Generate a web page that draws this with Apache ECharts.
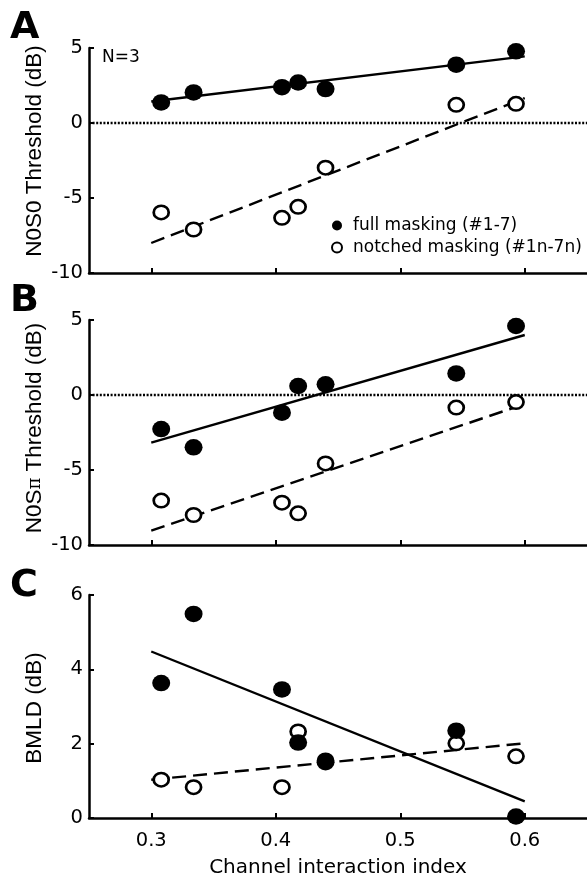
<!DOCTYPE html>
<html>
<head>
<meta charset="utf-8">
<script src="https://cdn.jsdelivr.net/npm/echarts@6/dist/echarts.min.js"></script>
<style>
html, body { margin: 0; padding: 0; background: #fff; }
#main { width: 587px; height: 881px; }
</style>
</head>
<body>
<div id="main"></div>
<script>
// channel interaction index of the 7 maskers (same for every panel)
var channelIndex = [0.308, 0.334, 0.405, 0.418, 0.440, 0.545, 0.593];

// A: N0S0 threshold (dB)
var n0s0Full = [1.37, 2.04, 2.39, 2.70, 2.26, 3.89, 4.78];
var n0s0Notched = [-5.96, -7.10, -6.32, -5.59, -2.98, 1.21, 1.28];
// B: N0Spi threshold (dB)
var n0spiFull = [-2.27, -3.49, -1.18, 0.60, 0.71, 1.44, 4.60];
var n0spiNotched = [-7.04, -8.00, -7.18, -7.89, -4.56, -0.84, -0.47];
// C: BMLD (dB)
var bmldFull = [3.63, 5.49, 3.46, 2.03, 1.50, 2.35, 0.04];
var bmldNotched = [1.03, 0.83, 0.83, 2.33, 1.55, 2.01, 1.66];

// regression lines, read at both ends
var fitX = [0.3, 0.6];
var n0s0FullFit = [1.43, 4.44];
var n0s0NotchedFit = [-8.0, 1.66];
var n0spiFullFit = [-3.18, 4.0];
var n0spiNotchedFit = [-9.04, -0.6];
var bmldFullFit = [4.48, 0.45];
var bmldNotchedFit = [1.03, 2.01];

var xTicks = [0.3, 0.4, 0.5, 0.6];
var fullName = 'full masking (#1-7)';
var notchedName = 'notched masking (#1n-7n)';

function pairs(xs, ys) {
    var out = [];
    for (var i = 0; i < xs.length; i++) {
        out.push([xs[i], ys[i]]);
    }
    return out;
}

var font = 'DejaVu Sans';
var grids = [
    {left: 89, top: 48, width: 498, height: 225},
    {left: 89, top: 320, width: 498, height: 225},
    {left: 89, top: 595, width: 498, height: 223}
];
var yRanges = [[-10, 5, 5], [-10, 5, 5], [0, 6, 2]];

var xAxes = [], yAxes = [];
for (var g = 0; g < 3; g++) {
    xAxes.push({
        type: 'value', gridIndex: g, min: 0.25, max: 0.65,
        axisLine: {show: true, onZero: false, lineStyle: {color: '#000', width: 2.5}},
        axisTick: {show: true, inside: true, length: 5, customValues: xTicks, lineStyle: {color: '#000', width: 2}},
        axisLabel: {show: g === 2, customValues: xTicks, color: '#000', fontSize: 19.5, fontFamily: font, margin: 13},
        splitLine: {show: false},
        name: g === 2 ? 'Channel interaction index' : '',
        nameLocation: 'middle', nameGap: 40,
        nameTextStyle: {color: '#000', fontSize: 20, fontFamily: font}
    });
    yAxes.push({
        type: 'value', gridIndex: g, min: yRanges[g][0], max: yRanges[g][1], interval: yRanges[g][2],
        axisLine: {show: true, onZero: false, lineStyle: {color: '#000', width: 2.5}},
        axisTick: {show: true, inside: true, length: 5, lineStyle: {color: '#000', width: 2}},
        axisLabel: {color: '#000', fontSize: 19.5, fontFamily: font, margin: 6},
        splitLine: {show: false}
    });
}

var panels = [
    [n0s0Full, n0s0Notched, n0s0FullFit, n0s0NotchedFit, true],
    [n0spiFull, n0spiNotched, n0spiFullFit, n0spiNotchedFit, true],
    [bmldFull, bmldNotched, bmldFullFit, bmldNotchedFit, false]
];

var series = [];
for (var p = 0; p < 3; p++) {
    var solid = {
        type: 'line', xAxisIndex: p, yAxisIndex: p, name: 'fit full ' + p,
        data: pairs(fitX, panels[p][2]), showSymbol: false, z: 2,
        lineStyle: {color: '#000', width: 2.4}
    };
    if (panels[p][4]) {
        solid.markLine = {
            silent: true, symbol: ['none', 'none'], label: {show: false},
            lineStyle: {color: '#000', width: 2.4, type: [2, 1.6]},
            data: [{yAxis: 0}]
        };
    }
    series.push(solid);
    series.push({
        type: 'line', xAxisIndex: p, yAxisIndex: p, name: 'fit notched ' + p,
        data: pairs(fitX, panels[p][3]), showSymbol: false, z: 2,
        lineStyle: {color: '#000', width: 2.4, type: [14, 7]}
    });
    series.push({
        type: 'scatter', xAxisIndex: p, yAxisIndex: p, name: notchedName,
        data: pairs(channelIndex, panels[p][1]), symbol: 'circle', symbolSize: [15, 13.5], z: 3,
        itemStyle: {color: '#fff', borderColor: '#000', borderWidth: 2.6, opacity: 1}
    });
    series.push({
        type: 'scatter', xAxisIndex: p, yAxisIndex: p, name: fullName,
        data: pairs(channelIndex, panels[p][0]), symbol: 'circle', symbolSize: [18, 16.5], z: 4,
        itemStyle: {color: '#000', opacity: 1}
    });
}

function label(txt, x, y, size, bold) {
    return {
        type: 'text', x: x, y: y,
        style: {text: txt, fill: '#000', font: (bold ? 'bold ' : '') + size + 'px "' + font + '"', verticalAlign: 'middle'}
    };
}
function yTitle(txt, x, y, rich) {
    return {
        type: 'text', x: x, y: y, rotation: Math.PI / 2,
        style: {text: txt, fill: '#000', fontSize: 22.5, fontFamily: 'Liberation Sans', align: 'center', verticalAlign: 'middle', rich: rich || {}}
    };
}

var chart = echarts.init(document.getElementById('main'));
chart.setOption({
    animation: false,
    backgroundColor: '#fff',
    grid: grids,
    xAxis: xAxes,
    yAxis: yAxes,
    legend: {
        data: [
            {name: fullName, icon: 'circle', itemStyle: {color: '#000'}},
            {name: notchedName, icon: 'circle', itemStyle: {color: '#fff', borderColor: '#000', borderWidth: 2}}
        ],
        orient: 'vertical', left: 331, top: 217, padding: 0,
        itemWidth: 10, itemHeight: 10, itemGap: 5,
        textStyle: {color: '#000', fontSize: 17, fontFamily: font, padding: [0, 0, 0, 6]}
    },
    graphic: [
        label('A', 10, 28, 38, true),
        label('B', 10, 301, 38, true),
        label('C', 10, 586, 38, true),
        label('N=3', 102, 58, 17, false),
        yTitle('N0S0 Threshold (dB)', 35, 151),
        yTitle('N0S{pi|π} Threshold (dB)', 35, 428, {pi: {fontSize: 18, fontFamily: 'DejaVu Serif', fill: '#000'}}),
        yTitle('BMLD (dB)', 35, 708)
    ],
    series: series
});
</script>
</body>
</html>
